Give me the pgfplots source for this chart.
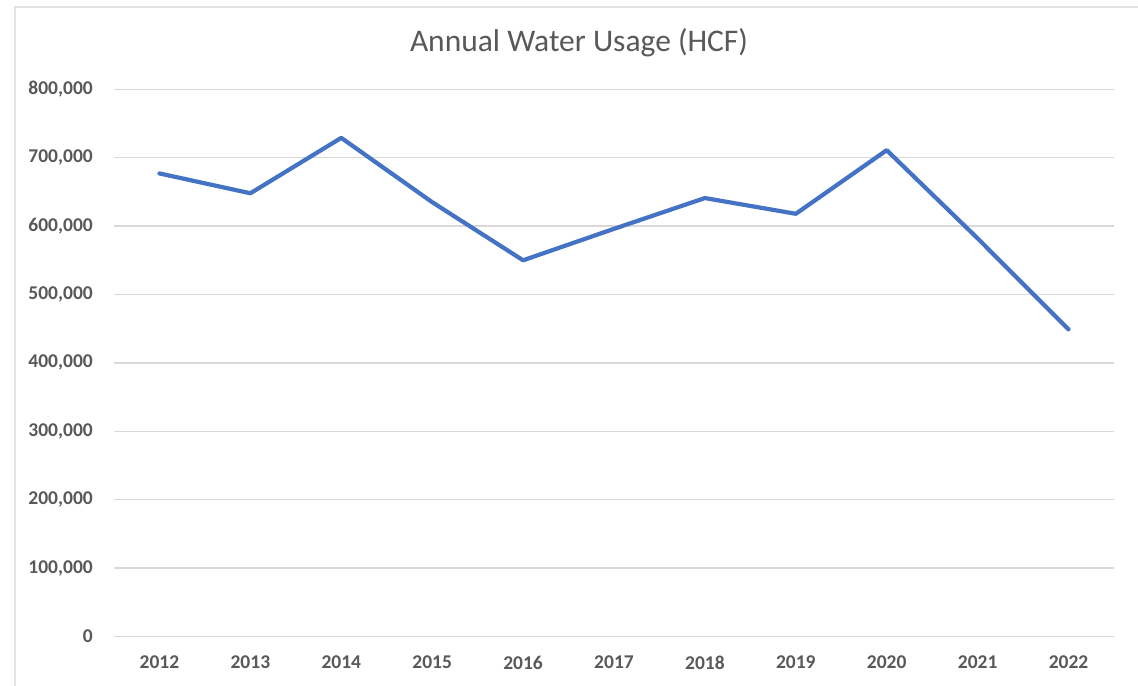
\documentclass[border=0pt]{standalone}
\usepackage{fontspec}
\setmainfont{Carlito}
\usepackage{pgfplots}
\pgfplotsset{compat=1.18}
\definecolor{xlblue}{HTML}{4472C4}
\definecolor{xlgrid}{HTML}{D9D9D9}
\definecolor{xltext}{HTML}{595959}
\definecolor{xlframe}{HTML}{E3E3E3}
\begin{document}
\begin{tikzpicture}
\useasboundingbox (0,0) rectangle (1138bp,686bp);
\fill[white] (0,0) rectangle (1138bp,686bp);
\draw[xlframe, line width=1.2bp] (15bp,0) -- (15bp,679bp) -- (1138bp,679bp);
\node[anchor=base, text=xltext, font=\fontsize{31.5bp}{36bp}\selectfont, inner sep=0pt] at (579bp,634bp) {Annual Water Usage (HCF)};
\begin{axis}[
  at={(114bp,49.5bp)}, anchor=south west,
  scale only axis, width=1000bp, height=547.2bp,
  xmin=-0.5, xmax=10.5, ymin=0, ymax=800000,
  axis line style={draw=none},
  xtick={0,...,10},
  xticklabels={2012,2013,2014,2015,2016,2017,2018,2019,2020,2021,2022},
  ytick={0,100000,200000,300000,400000,500000,600000,700000,800000},
  yticklabels={0,{100,000},{200,000},{300,000},{400,000},{500,000},{600,000},{700,000},{800,000}},
  scaled y ticks=false,
  ymajorgrids, grid style={xlgrid, line width=1.3bp},
  major tick length=0pt,
  tick label style={text=xltext, font=\fontsize{19.5bp}{22bp}\selectfont\bfseries, inner sep=0pt},
  yticklabel style={anchor=east, xshift=-21bp},
  xticklabel style={anchor=north, yshift=-19bp},
  clip=false,
]
\addplot[xlblue, line width=4.2bp, line join=round, line cap=round] coordinates {
(0,677000) (1,648000) (2,729000) (3,635000) (4,550000) (5,596000)
(6,641000) (7,618000) (8,711000) (9,582000) (10,449000)
};
\end{axis}
\end{tikzpicture}
\end{document}
